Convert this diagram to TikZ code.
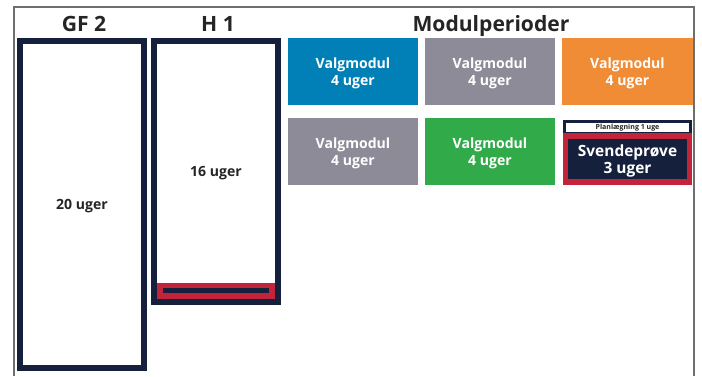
\documentclass[tikz,border=0pt]{standalone}
\usepackage{fontspec}
\setmainfont{Open Sans}
\usetikzlibrary{shapes}

\definecolor{navy}{HTML}{15203D}
\definecolor{titlegray}{HTML}{252525}
\definecolor{framegray}{HTML}{6E6E6E}
\definecolor{modblue}{HTML}{0080B7}
\definecolor{modgray}{HTML}{8C8B97}
\definecolor{modorange}{HTML}{F08B36}
\definecolor{modgreen}{HTML}{31AA4A}
\definecolor{examred}{HTML}{C4243B}

\begin{document}
\begin{tikzpicture}[x=0.025cm, y=-0.025cm]

\tikzstyle{title}=[anchor=base, text=titlegray, font=\bfseries\fontsize{15}{18}\selectfont]
\tikzstyle{period}=[rectangle, draw=navy, line width=4.25pt, minimum width=3.1cm, inner sep=0pt, text depth=0pt, text=titlegray, font=\bfseries\fontsize{10}{12}\selectfont]
\tikzstyle{modul}=[rectangle, minimum width=3.25cm, minimum height=1.675cm, inner sep=0pt, text depth=0pt, text=white, align=center, font=\bfseries\fontsize{10}{12}\selectfont]
\tikzstyle{bar}=[rectangle, inner sep=0pt]

\useasboundingbox (0,0) rectangle (702,376);

% frame
\draw[framegray, line width=0.8pt] (14,376) -- (14,7) -- (694,7) -- (694,376);

\node[title] (gf2t) at (84,31.5) {GF 2};
\node[title] (h1t) at (218,31.5) {H 1};
\node[title] (modt) at (491,31.5) {Modulperioder};

\node[period, minimum height=8.175cm] (gf2) at (82,204.5) {20 uger};
\node[period, minimum height=6.525cm] (h1) at (216,171.5) {16 uger};

\node[bar, fill=examred, minimum width=2.95cm, minimum height=0.4cm] (h1red) at (216,291) {};
\node[bar, fill=navy, minimum width=2.65cm, minimum height=0.125cm] (h1line) at (216,290.5) {};

\node[modul, fill=modblue] (m1) at (353,71.5) {Valgmodul\\4 uger};
\node[modul, fill=modgray] (m2) at (490,71.5) {Valgmodul\\4 uger};
\node[modul, fill=modorange] (m3) at (627.5,71.5) {Valgmodul\\4 uger};
\node[modul, fill=modgray] (m4) at (353,151.5) {Valgmodul\\4 uger};
\node[modul, fill=modgreen] (m5) at (490,151.5) {Valgmodul\\4 uger};

% svendeproeve
\node[bar, fill=navy, minimum width=3.225cm, minimum height=0.35cm] (plantop) at (627.5,127) {};
\node[bar, fill=white, minimum width=3.075cm, minimum height=0.225cm, text depth=0pt, text=titlegray, font=\bfseries\fontsize{5}{6}\selectfont] (plan) at (627.5,127) {Planlægning 1 uge};
\node[bar, fill=examred, minimum width=3.225cm, minimum height=1.3cm] (examred) at (627.5,159) {};
\node[bar, fill=navy, minimum width=2.975cm, minimum height=1.0cm, text depth=0pt, text=white, align=center, font=\bfseries\fontsize{11}{12.5}\selectfont] (exam) at (627.5,159) {Svendeprøve\\3 uger};

\end{tikzpicture}
\end{document}
